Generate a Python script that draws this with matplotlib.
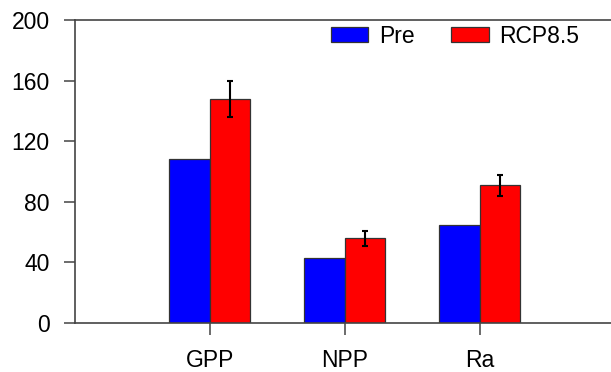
import numpy as np
import matplotlib
matplotlib.use("Agg")
import matplotlib.pyplot as plt

plt.rcParams['font.family'] = ['Liberation Sans', 'DejaVu Sans']

categories = ["GPP", "NPP", "Ra"]
pre_values = [108, 43, 65]
rcp_values = [148, 56, 91]
rcp_err = [12, 5, 7]

fig = plt.figure(figsize=(6.11, 3.72), dpi=100)
ax = fig.add_axes([0.1223, 0.1317, 0.8838, 0.8145])

x = np.arange(1, len(categories) + 1)
w = 0.3
ax.bar(x - w / 2, pre_values, w, color='#0000ff', edgecolor='#333333', linewidth=0.9, label='Pre')
ax.bar(x + w / 2, rcp_values, w, color='#ff0000', edgecolor='#333333', linewidth=0.9, label='RCP8.5')
ax.errorbar(x + w / 2, rcp_values, yerr=rcp_err, fmt='none', ecolor='black',
            elinewidth=1.5, capsize=2, capthick=1.5)

ax.set_xlim(0, 4)
ax.set_ylim(0, 200)
ax.set_yticks([0, 40, 80, 120, 160, 200])
ax.set_xticks(x)
ax.set_xticklabels(categories)

for s in ['left', 'top', 'bottom']:
    ax.spines[s].set_color('#444444')
    ax.spines[s].set_linewidth(1.2)
ax.spines['right'].set_visible(False)

ax.tick_params(axis='y', direction='out', length=8, width=1.1, color='#444444',
               labelsize=16.5, pad=10)
ax.tick_params(axis='x', direction='out', length=8.5, width=1.1, color='#444444',
               labelsize=16.5, pad=10)

ax.legend(loc='center left', bbox_to_anchor=(0.4746, 0.947), ncol=2, frameon=False,
          fontsize=16.5, handlelength=1.62, handleheight=0.61, columnspacing=1.6,
          handletextpad=0.48, borderpad=0, borderaxespad=0)

fig.savefig("out.png", dpi=100)
